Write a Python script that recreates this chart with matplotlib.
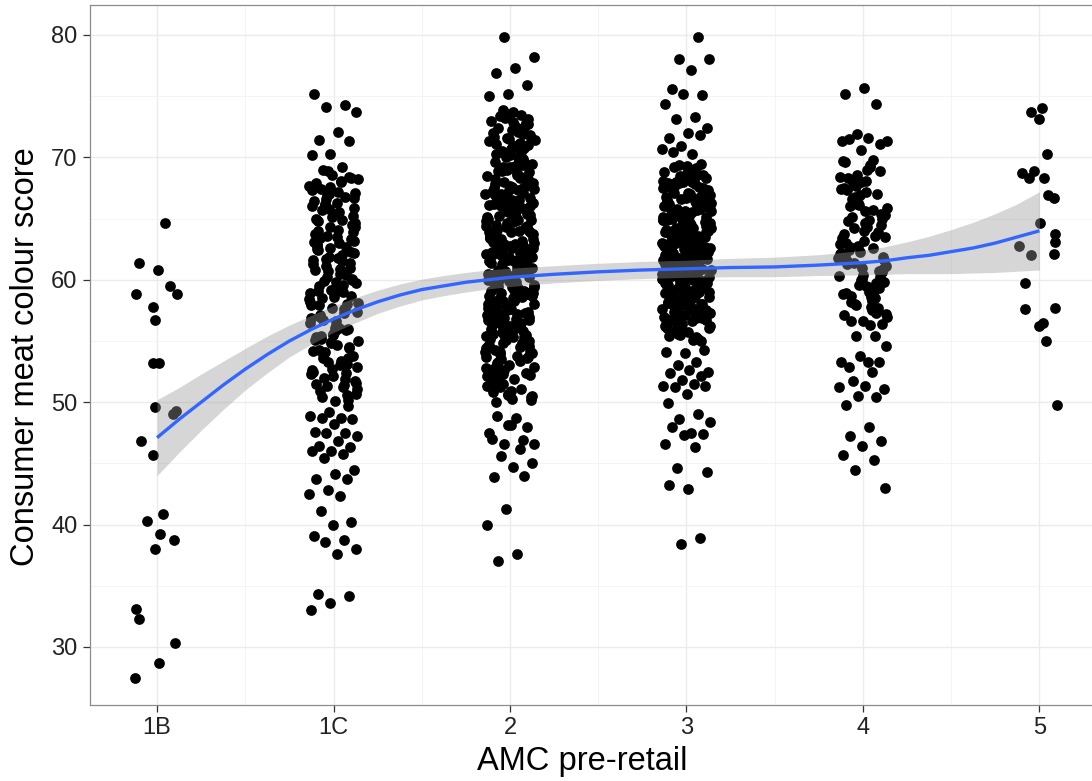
import numpy as np
import matplotlib
matplotlib.use("Agg")
import matplotlib.pyplot as plt
from matplotlib.ticker import FixedLocator, MultipleLocator

# AMC pre-retail grades on the x axis
categories = ["1B", "1C", "2", "3", "4", "5"]

# Consumer meat colour scores per grade
score_1b = [64.6, 61.4, 60.8, 59.5, 58.8, 58.8, 57.8, 56.7, 53.2, 53.2, 49.6, 49.0, 49.3,
            46.8, 45.7, 40.3, 40.9, 39.2, 38.7, 38.0, 33.1, 32.3, 30.3, 28.7, 27.5]
jitter_1b = [0.045, -0.10, 0.004, 0.074, 0.115, -0.119, -0.023, -0.01, -0.024, 0.013, -0.013,
             0.089, 0.106, -0.092, -0.023, -0.058, 0.036, 0.019, 0.096, -0.01, -0.119, -0.10,
             0.102, 0.011, -0.123]

score_1c = [
    75.2, 74.3, 74.1, 73.7, 72.1, 71.4, 71.3, 70.3, 70.2, 69.2, 69.0,
    63.2, 55.8, 67.9, 52.4, 60.7, 58.1, 65.5, 50.9, 62.3, 68.6, 54.2, 57.3, 66.1, 51.7, 59.4, 64.8, 53.6, 61.9, 56.5, 68.1,
    50.4, 63.9, 58.8, 55.1, 66.8, 60.2, 52.9, 64.1, 57.9, 61.4, 54.8, 67.3, 51.2, 59.9, 65.9, 56.1, 62.8, 53.1, 68.9, 58.4,
    60.9, 55.4, 64.5, 52.1, 66.4, 57.6, 61.1, 50.7, 63.5, 59.1, 54.5, 67.6, 56.9, 62.0, 53.9, 65.2, 58.6, 51.5, 60.4, 66.9,
    55.0, 63.0, 57.0, 68.3, 52.7, 61.6, 59.6, 54.0, 64.3, 56.3, 62.5, 50.2, 67.0, 58.2, 53.4, 65.7, 60.0, 55.6, 63.7, 51.9,
    66.6, 57.4, 61.8, 54.3, 68.4, 59.2, 52.6, 64.9, 56.7, 62.2, 50.1, 65.0, 58.0, 53.3, 67.7, 60.5, 55.2, 63.3, 57.7, 61.3,
    51.4, 66.2, 59.7, 54.7, 64.0, 56.0, 62.6, 52.3, 68.0, 58.5, 53.8, 65.4, 60.8, 55.9, 63.6, 51.1, 67.2, 57.1, 61.0, 54.9,
    66.0, 59.0, 52.0, 64.6, 56.6, 62.9, 50.6, 65.8, 58.9, 53.0, 67.4, 60.1, 55.5, 63.1, 57.5, 61.7, 51.6, 66.3, 59.5, 54.4,
    64.3, 57.9, 61.5, 53.6, 66.7, 59.3, 55.3, 62.7, 51.3, 68.2, 56.1, 63.4, 58.7, 65.1, 52.5, 60.6, 54.1, 67.1, 59.8, 62.4,
    49.7, 49.2, 48.9, 48.7, 48.7, 48.6, 48.2, 47.6, 47.5, 47.5, 47.2, 46.8, 46.4, 46.3, 46.0, 46.0, 45.8, 45.4, 44.5,
    44.1, 43.7, 43.7, 42.8, 42.5, 42.3, 41.1, 40.2, 40.0, 39.1, 38.7, 38.6, 38.0, 37.6, 34.3, 34.2, 33.6, 33.0,
]

score_2 = [
    79.8, 78.2, 77.3, 76.9, 75.9, 75.2, 75.0,
    71.2, 56.4, 63.8, 50.3, 67.5, 59.1, 73.6, 53.7, 61.2, 68.9, 55.0, 64.7, 51.8, 70.4, 58.3, 62.6, 66.2, 52.5, 72.8, 57.6, 60.5, 69.7, 54.1, 65.3,
    50.9, 63.1, 71.9, 56.9, 67.0, 59.8, 53.2, 73.1, 61.9, 55.6, 68.3, 62.0, 58.7, 70.9, 52.0, 64.2, 66.8, 57.1, 72.3, 60.0, 54.6, 69.2, 51.4, 65.9,
    73.9, 58.0, 62.9, 50.0, 67.7, 56.1, 61.5, 70.1, 53.9, 64.9, 59.4, 72.0, 55.3, 66.4, 52.8, 68.6, 60.8, 57.4, 71.5, 63.4, 51.1, 69.0, 58.9, 65.6,
    54.3, 62.3, 73.3, 56.7, 67.3, 60.3, 52.2, 70.7, 63.7, 55.8, 68.0, 59.6, 72.6, 57.9, 64.4, 50.6, 66.1, 61.0, 53.5, 69.5, 58.5, 71.7, 62.7, 55.1,
    65.1, 60.6, 51.7, 68.8, 56.2, 73.0, 63.0, 54.8, 67.9, 59.2, 70.3, 52.4, 64.6, 57.7, 61.7, 66.6, 50.2, 72.2, 58.2, 69.9, 55.5, 62.1, 65.8, 53.1,
    71.0, 59.9, 56.6, 68.4, 61.3, 54.0, 73.7, 63.6, 57.3, 66.9, 51.3, 70.0, 60.1, 64.0, 55.9, 67.2, 58.6, 62.4, 52.9, 69.3, 57.0, 65.4, 61.6, 71.3,
    54.5, 63.3, 59.0, 67.6, 50.8, 72.5, 56.3, 64.8, 60.9, 53.3, 68.2, 62.8, 58.1, 70.6, 55.7, 66.3, 51.9, 69.6, 61.1, 57.5, 65.0, 59.3, 73.4, 54.2,
    63.9, 60.4, 67.1, 52.6, 71.4, 56.8, 64.1, 58.8, 69.1, 55.2, 62.2, 66.0, 50.5, 72.9, 59.7, 61.8, 57.8, 68.5, 53.8, 65.2, 60.2, 70.2, 56.0, 63.2,
    51.5, 67.4, 58.4, 64.5, 61.4, 71.6, 54.7, 69.8, 57.2, 62.5, 66.5, 52.7, 60.7, 73.2, 55.4, 65.7, 59.5, 68.1, 53.0, 63.5, 56.5, 70.5, 61.9, 58.3,
    67.8, 54.9, 64.3, 60.0, 72.1, 51.6, 66.7, 57.6, 62.0, 69.4, 55.8, 63.0, 59.8, 71.1, 53.6, 65.5, 58.7, 61.2, 67.0, 50.4, 64.7, 56.9, 70.8, 60.6,
    54.4, 68.7, 62.6, 57.0, 65.9, 59.1, 73.5, 52.3, 63.7, 61.5, 66.9, 55.5, 69.0, 58.0, 64.0, 51.2, 71.8, 60.3, 56.4, 67.5, 62.9, 54.1, 65.1, 59.6,
    72.7, 57.9, 63.4, 53.4, 68.9, 61.0, 55.3, 66.2, 58.9, 70.0, 52.1, 64.9, 60.5, 56.7, 67.7, 62.3, 54.8, 69.2, 59.4, 65.3, 57.3, 61.7, 50.7, 63.9,
    66.5, 58.9, 71.6, 62.6, 55.6, 69.6, 60.7, 64.4, 57.2, 72.4, 53.7, 67.3, 61.4, 59.0, 70.4, 63.3, 56.0, 68.2, 62.1, 65.7, 54.6, 71.0, 58.4, 66.0,
    48.1, 47.0, 46.9, 46.6, 46.6, 48.7, 48.9, 48.0, 48.1, 47.5, 46.2, 45.6, 45.0, 44.7, 43.9, 44.0, 41.3, 40.0, 37.6, 37.0,
]

score_3 = [
    79.8, 78.0, 78.0, 77.1, 75.6, 75.1, 75.2, 74.4, 73.3, 73.1, 72.4, 72.0, 71.6, 71.8, 70.9, 70.7, 70.3, 70.4,
    62.4, 57.1, 66.8, 60.3, 55.6, 64.5, 68.9, 59.0, 63.2, 56.4, 67.5, 61.7, 58.3, 65.1, 69.3, 62.9, 55.2, 60.8, 66.1, 57.8, 64.0, 59.6, 68.2, 61.3,
    56.9, 63.7, 67.0, 58.8, 62.0, 65.8, 55.9, 60.1, 69.0, 57.4, 64.7, 61.0, 66.4, 59.3, 63.4, 56.1, 68.6, 62.6, 58.0, 65.4, 60.6, 67.8, 57.6, 63.9,
    61.5, 55.4, 66.0, 59.8, 64.2, 68.0, 62.2, 57.0, 65.6, 60.0, 63.1, 56.6, 67.3, 58.6, 61.9, 69.5, 59.1, 64.9, 62.8, 55.8, 66.6, 60.4, 58.2, 63.6,
    67.9, 57.3, 61.2, 65.0, 59.4, 62.5, 56.2, 68.4, 60.9, 64.4, 58.5, 66.2, 61.6, 57.9, 63.0, 55.1, 67.1, 59.9, 65.3, 62.1, 58.9, 64.1, 60.2, 66.9,
    56.7, 63.3, 61.4, 68.8, 59.2, 65.7, 57.5, 62.7, 60.7, 67.6, 55.5, 64.6, 61.8, 58.1, 66.3, 63.8, 59.7, 69.1, 56.3, 62.3, 65.2, 60.5, 57.7, 64.3,
    68.1, 61.1, 58.4, 63.5, 66.7, 59.5, 62.9, 56.0, 65.9, 60.3, 67.4, 57.2, 64.8, 61.5, 58.7, 63.0, 66.0, 55.7, 62.4, 59.0, 68.5, 60.8, 65.5, 57.9,
    63.6, 61.9, 56.8, 66.5, 59.3, 64.0, 62.1, 67.7, 58.0, 60.6, 65.1, 57.4, 63.2, 68.3, 61.3, 59.6, 66.1, 56.5, 62.6, 64.5, 58.8, 67.2, 60.0, 63.9,
    55.3, 65.8, 61.7, 58.3, 62.8, 66.8, 60.4, 57.6, 64.2, 69.2, 59.8, 63.4, 56.1, 61.0, 65.4, 58.6, 67.0, 62.0, 60.9, 64.7, 57.0, 66.4, 59.2, 62.5,
    68.7, 58.1, 63.1, 60.1, 65.6, 56.6, 61.2, 67.5, 59.4, 64.1, 62.2, 57.8, 66.2, 60.7, 63.7, 55.0, 65.0, 61.6, 58.5, 67.8, 62.7, 59.1, 64.9, 57.3,
    61.8, 66.9, 60.2, 63.3, 56.9, 65.3, 58.9, 62.4, 68.0, 59.7, 64.3, 61.4, 57.5, 66.6, 60.5, 63.8, 58.2, 67.3, 62.9, 56.4, 65.7, 61.1, 59.0, 64.6,
    60.8, 63.5, 57.1, 66.0, 61.9, 58.4, 64.4, 62.3, 67.9, 59.5, 65.2, 56.2, 63.0, 60.3, 68.6, 58.7, 62.0, 66.3, 61.3, 64.0, 57.7, 65.9, 59.9, 63.2,
    64.9, 60.0, 67.6, 62.3, 58.6, 66.5, 61.5, 69.4, 57.3, 63.7, 65.3, 59.7, 68.0, 62.8, 60.9, 64.2, 56.7, 67.1, 61.1, 63.2, 59.3, 66.3, 62.0, 65.6,
    54.3, 54.0, 54.1, 53.3, 53.0, 52.5, 52.6, 52.4, 52.1, 51.8, 51.3, 51.5, 51.2, 51.3, 50.7, 49.9, 49.0, 48.6,
    48.4, 47.5, 48.0, 47.4, 47.3, 46.6, 46.3, 44.6, 44.3, 42.9, 43.2, 38.9, 38.4,
]

score_4 = [
    75.7, 75.2, 74.4, 71.9, 71.3, 71.6, 71.5, 71.1, 70.6, 71.3, 69.8,
    64.2, 59.8, 68.1, 61.5, 57.6, 66.3, 62.9, 69.4, 58.7, 65.0, 60.4, 67.5, 63.6, 57.9, 61.1, 69.0, 64.8, 59.3, 66.9, 62.2, 58.3, 67.9, 60.9, 65.6,
    63.0, 57.3, 68.6, 61.8, 59.0, 66.0, 64.5, 60.1, 69.7, 62.6, 58.0, 65.3, 67.2, 61.3, 63.9, 59.6, 68.4, 57.8, 66.6, 60.6, 64.0, 62.0, 58.5, 67.7,
    65.9, 59.4, 62.4, 68.9, 60.0, 63.4, 57.5, 66.4, 61.6, 64.6, 58.9, 67.0, 62.8, 60.3, 69.2, 58.2, 65.4, 61.0, 63.7, 59.1, 66.8, 57.2, 64.3, 68.3,
    60.7, 62.3, 67.4, 58.6, 65.1, 61.9, 63.2, 69.6, 59.7, 66.2, 57.0, 64.9, 62.7, 60.2, 68.0, 58.8, 65.7, 61.4, 63.5, 59.5, 67.3, 57.7, 66.1, 62.1,
    56.3, 56.6, 56.4, 56.6, 57.1, 55.4, 55.4, 54.6, 53.3, 52.9, 53.3, 53.8, 53.3, 52.5, 51.7, 51.1, 51.3,
    49.8, 50.4, 50.5, 51.2, 48.0, 47.2, 46.8, 46.4, 45.7, 45.3, 44.5, 43.0,
]

score_5 = [73.7, 74.0, 73.1, 70.3, 68.7, 68.9, 68.3, 68.3, 66.9, 66.7, 64.6, 63.7, 63.1, 62.1,
           62.8, 62.0, 59.7, 57.6, 57.7, 56.2, 56.5, 55.0, 49.8]
jitter_5 = [-0.047, 0.015, -0.004, 0.045, -0.098, -0.028, -0.061, 0.028, 0.047, 0.085, 0.004,
            0.087, 0.087, 0.083, -0.113, -0.047, -0.079, -0.081, 0.091, -0.004, 0.019, 0.038, 0.098]

# Loess fit with its 95% confidence band, sampled along the category axis
smooth_pos = [1.0, 1.125, 1.25, 1.375, 1.5, 1.625, 1.75, 1.875, 2.0, 2.125, 2.25, 2.375, 2.5,
              2.625, 2.75, 2.875, 3.0, 3.25, 3.5, 3.75, 4.0, 4.25, 4.5, 4.75, 5.0,
              5.125, 5.25, 5.375, 5.5, 5.625, 5.75, 5.875, 6.0]
smooth_fit = [47.1, 48.6, 50.0, 51.4, 52.7, 53.9, 55.0, 55.95, 56.8, 57.55, 58.2, 58.75, 59.2,
              59.5, 59.8, 60.0, 60.2, 60.45, 60.65, 60.8, 60.9, 61.0, 61.05, 61.2, 61.4,
              61.55, 61.8, 62.0, 62.3, 62.6, 63.0, 63.5, 64.0]
smooth_lo = [44.0, 45.9, 47.7, 49.4, 51.0, 52.4, 53.7, 54.75, 55.7, 56.5, 57.25, 57.85, 58.35,
             58.7, 59.0, 59.25, 59.45, 59.75, 59.95, 60.1, 60.2, 60.25, 60.25, 60.35, 60.4,
             60.45, 60.5, 60.5, 60.5, 60.55, 60.6, 60.7, 60.8]
smooth_hi = [50.2, 51.2, 52.3, 53.35, 54.4, 55.4, 56.3, 57.1, 57.9, 58.55, 59.15, 59.65, 60.05,
             60.35, 60.6, 60.8, 60.95, 61.15, 61.35, 61.5, 61.6, 61.75, 61.85, 62.05, 62.4,
             62.7, 63.1, 63.55, 64.1, 64.7, 65.4, 66.2, 67.2]

plt.rcParams["font.family"] = ["Liberation Sans", "DejaVu Sans"]


def spread(n, width=0.14, phase=0.0):
    """Deterministic horizontal jitter within +/- width."""
    k = (np.arange(n) * 0.6180339887 + phase) % 1.0
    return (2.0 * k - 1.0) * width


groups = [
    (score_1b, np.asarray(jitter_1b)),
    (score_1c, spread(len(score_1c), phase=0.11)),
    (score_2, spread(len(score_2), phase=0.37)),
    (score_3, spread(len(score_3), phase=0.73)),
    (score_4, spread(len(score_4), phase=0.52)),
    (score_5, np.asarray(jitter_5)),
]

fig = plt.figure(figsize=(10.92, 7.81), dpi=100)
ax = fig.add_axes([90 / 1092, 76 / 781, 1.0 - 90 / 1092 + 0.01, 700 / 781])

for i, (vals, jit) in enumerate(groups):
    xs = (i + 1) + jit
    ax.scatter(xs, vals, s=60, color="black", linewidths=0, zorder=2)

ax.fill_between(smooth_pos, smooth_lo, smooth_hi, color="#999999", alpha=0.4,
                linewidth=0, zorder=3)
ax.plot(smooth_pos, smooth_fit, color="#3366FF", linewidth=2.4, zorder=4,
        solid_capstyle="butt", solid_joinstyle="round")

ax.set_xlim(0.62, 6.36)
ax.set_ylim(25.26, 82.45)

ax.xaxis.set_major_locator(FixedLocator(range(1, 7)))
ax.set_xticklabels(categories)
ax.xaxis.set_minor_locator(FixedLocator([1.5, 2.5, 3.5, 4.5, 5.5]))
ax.yaxis.set_major_locator(MultipleLocator(10))
ax.yaxis.set_minor_locator(MultipleLocator(5))

ax.set_axisbelow(True)
ax.grid(which="major", color="#EBEBEB", linewidth=1.0)
ax.grid(which="minor", color="#F3F3F3", linewidth=0.6)

for side in ax.spines.values():
    side.set_color("#8C8C8C")
    side.set_linewidth(0.9)

ax.tick_params(which="major", length=5, width=0.9, color="#333333",
               labelsize=17, labelcolor="#222222", pad=4)
ax.tick_params(which="minor", length=0)

ax.set_xlabel("AMC pre-retail", fontsize=23.5)
ax.set_ylabel("Consumer meat colour score", fontsize=23.5)
ax.xaxis.label.set_verticalalignment("center")
ax.yaxis.label.set_verticalalignment("center")
ax.xaxis.set_label_coords(0.486, -0.081)
ax.yaxis.set_label_coords(-0.064, 0.497)

fig.savefig("out.png", dpi=100)
